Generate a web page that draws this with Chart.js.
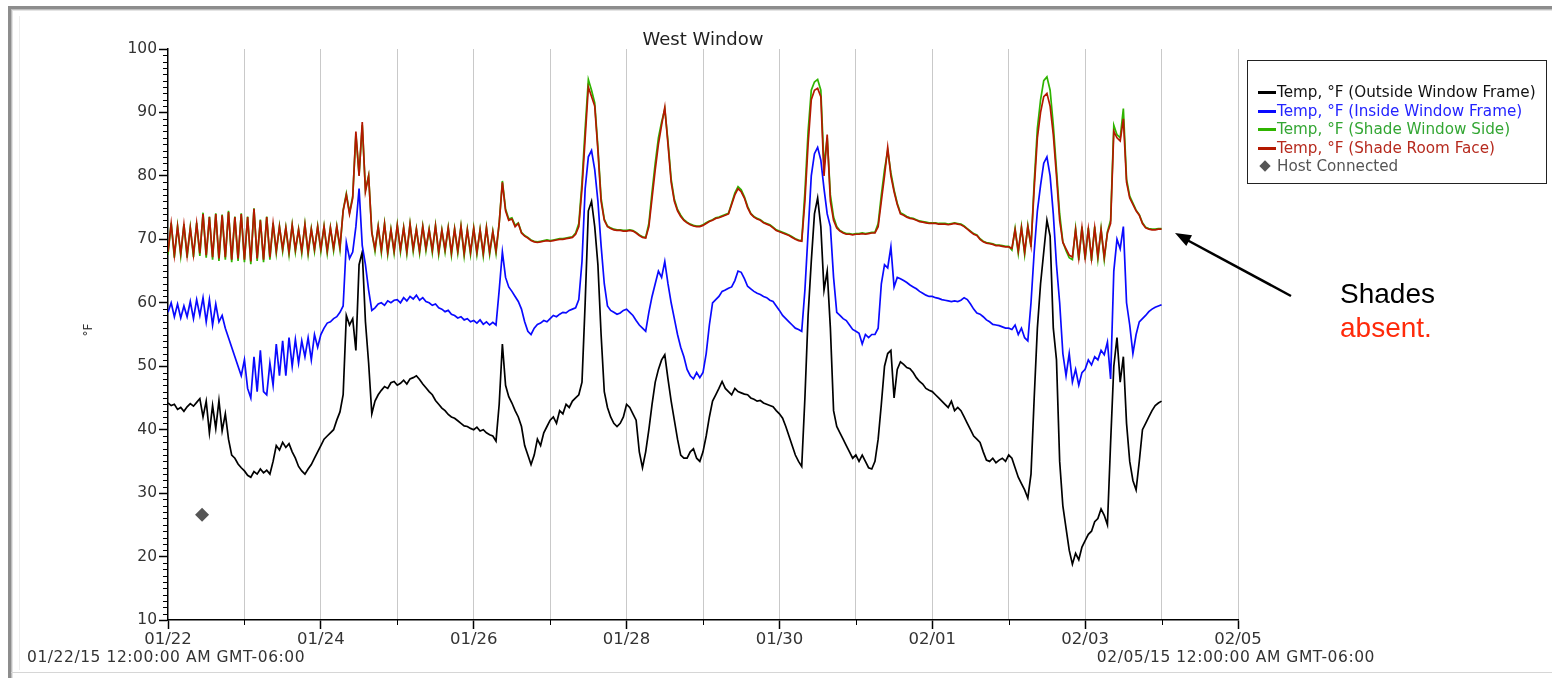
<!DOCTYPE html>
<html>
<head>
<meta charset="utf-8">
<title>West Window</title>
<script src="https://cdn.jsdelivr.net/npm/chart.js"></script>
<style>
  html, body { margin: 0; padding: 0; background: #fff; }
  body { width: 1552px; height: 678px; position: relative; overflow: hidden; font-family: "DejaVu Sans", sans-serif; }
  #marco { position: absolute; left: 8px; top: 6px; width: 1600px; height: 720px;
           border-top: 3px solid #8d8d8d; border-left: 3px solid #8d8d8d;
           box-shadow: inset 1px 1px 0 #bdbdbd, inset 2px 2px 0 #e4e4e4; }
  #lineaInterior { position: absolute; left: 19px; top: 16px; height: 654px; border-left: 1px solid #ededed; }
  #lineaInferior { position: absolute; left: 11px; top: 672px; width: 1541px; border-top: 1px solid #d6d6d6; }
  #grafica { position: absolute; left: 0; top: 0; }
  #titulo { position: absolute; left: 553px; top: 28px; width: 300px; text-align: center;
            font-size: 18px; line-height: 22px; color: #222; }
  #unidad { position: absolute; left: 78px; top: 322px; width: 20px; text-align: center;
            font-size: 12px; line-height: 16px; color: #333; transform: rotate(-90deg); }
  .fecha { position: absolute; top: 648px; font-size: 15.5px; letter-spacing: 0.55px; line-height: 18px; color: #333; white-space: nowrap; }
  #leyenda { position: absolute; left: 1247px; top: 60px; width: 300px; height: 124px;
             border: 1px solid #222; box-sizing: border-box; padding-top: 22px; }
  .fila { position: relative; height: 18.5px; line-height: 18.5px; font-size: 15.2px; white-space: nowrap; padding-left: 29px; }
  .fila .trazo { position: absolute; left: 10px; top: 8px; width: 18px; height: 3px; }
  .fila .rombo { position: absolute; left: 13px; top: 5px; width: 8px; height: 8px; background: #555; transform: rotate(45deg); }
  .nota { position: absolute; left: 1340px; font-family: "Liberation Sans", Arial, sans-serif; font-size: 28px; line-height: 34px; white-space: nowrap; }
  #flecha { position: absolute; left: 0; top: 0; }
</style>
</head>
<body>
<div id="marco"></div>
<div id="lineaInterior"></div>
<div id="lineaInferior"></div>
<canvas id="grafica" width="1552" height="678"></canvas>
<div id="titulo">West Window</div>
<div id="unidad">°F</div>
<div class="fecha" style="left:27px">01/22/15 12:00:00 AM GMT-06:00</div>
<div class="fecha" style="right:177px">02/05/15 12:00:00 AM GMT-06:00</div>
<div id="leyenda"></div>
<svg id="flecha" width="1552" height="678">
  <line x1="1291" y1="296" x2="1188" y2="240.5" stroke="#000" stroke-width="2.5"/>
  <polygon points="1175,233 1192,235.3 1186.3,245.9" fill="#000"/>
</svg>
<div class="nota" style="top:277px;color:#000">Shades</div>
<div class="nota" style="top:311px;color:#ff2a0a">absent.</div>

<script>
// Etiquetas de los días (una marca por día, texto cada dos días)
const etiquetasDias = ['01/22','01/23','01/24','01/25','01/26','01/27','01/28','01/29',
                       '01/30','01/31','02/01','02/02','02/03','02/04','02/05'];

// Lecturas horarias desde 01/22 00:00 hasta 02/04 00:00 (°F)
const tempExterior = [
  44.2,43.8,44.0,43.2,43.5,42.9,43.6,44.1,43.7,44.3,44.9,42.0,44.5,39.5,43.8,40.2,44.6,39.8,42.5,38.5,36.0,35.5,34.6,34.0,
  33.5,32.8,32.5,33.4,33.0,33.8,33.2,33.6,33.0,35.0,37.5,36.8,38.0,37.2,37.8,36.5,35.5,34.2,33.5,33.0,33.8,34.5,35.5,36.5,
  37.5,38.5,39.0,39.5,40.0,41.5,42.8,45.5,58.0,56.5,57.5,52.5,66.0,68.0,57.0,50.5,42.5,44.5,45.5,46.2,46.8,46.5,47.4,47.6,
  47.0,47.3,47.8,47.2,48.0,48.2,48.5,47.9,47.2,46.6,46.0,45.5,44.6,44.0,43.4,43.0,42.4,42.0,41.8,41.4,41.0,40.6,40.5,40.2,
  40.0,40.4,39.8,40.0,39.5,39.2,39.0,38.2,44.0,53.5,47.0,45.2,44.2,43.0,42.0,40.5,37.5,36.0,34.5,36.0,38.5,37.5,39.5,40.5,
  41.5,42.0,41.0,43.0,42.5,44.0,43.5,44.5,45.0,45.5,47.5,60.0,74.5,76.0,72.0,66.0,55.0,46.0,43.5,42.0,41.0,40.5,41.0,42.0,
  44.0,43.5,42.5,41.5,36.5,34.0,36.5,40.0,44.0,47.5,49.5,51.0,51.8,48.0,44.5,41.5,38.5,36.0,35.5,35.5,36.5,37.0,35.5,35.0,
  36.5,39.0,42.0,44.5,45.5,46.5,47.6,46.5,46.0,45.5,46.5,46.0,45.8,45.6,45.5,45.0,44.8,44.5,44.6,44.2,44.0,43.8,43.6,43.0,
  42.5,41.8,40.5,39.0,37.5,36.0,35.0,34.2,45.0,58.0,66.5,74.0,76.5,72.0,62.0,65.0,56.0,43.0,40.5,39.5,38.5,37.5,36.5,35.5,
  36.0,35.0,36.0,35.0,34.0,33.8,35.0,38.5,44.0,50.0,52.0,52.5,45.0,49.5,50.7,50.3,49.8,49.6,49.0,48.2,47.6,47.2,46.5,46.2,
  46.0,45.5,45.0,44.5,44.0,43.5,44.5,43.0,43.5,43.0,42.0,41.0,40.0,39.0,38.5,38.0,36.5,35.2,35.0,35.5,34.8,35.2,35.5,35.0,
  36.0,35.5,34.0,32.5,31.5,30.5,29.2,33.0,45.0,56.0,63.0,68.0,73.0,70.5,56.0,51.0,35.0,28.0,24.5,21.0,18.8,20.5,19.5,21.5,
  22.5,23.5,24.0,25.5,26.0,27.5,26.5,25.0,38.0,50.0,54.5,47.5,51.5,41.0,35.0,32.0,30.5,35.0,40.0,41.0,42.0,43.0,43.8,44.2,44.5
];
const tempInterior = [
  58.5,60.0,57.8,59.8,57.6,59.5,57.8,60.2,57.5,60.5,58.0,60.8,57.0,60.5,56.5,59.8,57.0,58.0,56.0,54.5,53.0,51.5,50.0,48.5,
  51.0,46.5,45.0,51.5,46.0,52.5,46.0,45.5,50.5,47.0,53.5,48.5,54.0,48.5,54.5,50.0,54.2,50.5,54.0,51.5,54.5,51.0,55.0,53.0,
  55.0,56.0,56.8,57.0,57.5,57.8,58.5,59.5,69.5,67.0,68.0,72.0,78.0,69.0,66.0,62.0,58.8,59.2,59.8,60.0,59.6,60.3,60.0,60.4,
  60.5,60.0,60.8,60.3,61.0,60.6,61.2,60.4,60.8,60.2,60.0,59.6,59.8,59.2,59.0,58.6,58.8,58.2,58.0,57.6,57.8,57.3,57.5,57.0,
  57.2,56.8,57.3,56.6,57.0,56.5,56.9,56.5,62.0,68.0,64.0,62.5,61.8,61.0,60.2,59.0,57.0,55.5,55.0,56.0,56.6,56.8,57.2,57.0,
  57.5,58.0,57.8,58.2,58.5,58.4,58.8,59.0,59.2,60.5,66.5,78.0,83.0,84.0,81.0,76.0,69.0,63.0,59.5,58.8,58.5,58.2,58.4,58.8,
  59.0,58.5,58.0,57.2,56.5,56.0,55.5,58.5,61.0,63.0,65.0,64.0,66.5,63.0,60.0,57.5,55.0,53.0,51.5,49.5,48.5,48.0,49.0,48.2,
  49.0,52.0,56.5,60.0,60.5,61.0,61.8,62.0,62.3,62.5,63.5,65.0,64.8,63.8,62.6,62.2,61.8,61.5,61.3,61.0,60.8,60.4,60.2,59.5,
  58.8,58.0,57.5,57.0,56.5,56.0,55.8,55.5,62.0,71.0,80.0,83.5,84.5,82.5,78.0,74.0,72.0,64.0,58.5,58.0,57.5,57.2,56.5,55.8,
  55.5,55.2,53.5,55.0,54.5,55.0,55.0,56.0,63.0,66.0,65.5,68.8,62.5,64.0,63.8,63.5,63.2,62.8,62.5,62.2,61.8,61.5,61.2,61.0,
  61.0,60.8,60.7,60.5,60.4,60.3,60.2,60.3,60.2,60.4,60.8,60.5,59.8,59.0,58.4,58.2,57.8,57.3,57.0,56.6,56.5,56.4,56.2,56.0,
  56.0,55.8,56.5,55.0,56.0,54.5,54.0,60.0,68.0,74.5,78.5,82.0,83.0,80.0,74.0,66.0,60.0,52.0,48.5,52.0,47.5,49.5,47.0,49.0,
  49.5,51.0,50.2,51.5,51.0,52.5,51.8,53.8,48.0,65.0,70.0,68.5,72.0,60.0,56.5,52.0,55.0,57.0,57.5,58.0,58.6,59.0,59.3,59.5,59.7
];
const tempCortinaVentana = [
  67.6,72.6,67.1,72.1,67.4,72.4,67.1,71.9,67.2,72.6,67.4,74.2,67.1,73.6,66.8,74.1,66.6,73.9,66.8,74.5,66.4,73.6,66.6,74.1,
  66.4,73.6,66.1,74.9,66.6,73.1,66.4,73.6,66.8,72.6,67.8,72.1,68.1,71.9,67.6,72.3,68.0,71.6,67.8,72.4,67.6,71.7,68.1,72.1,
  68.1,72.1,67.8,71.9,68.2,72.1,68.4,74.6,77.2,74.2,76.8,86.5,80.2,88.0,77.8,80.0,71.2,68.1,72.1,67.9,72.5,67.6,71.6,67.8,
  72.3,68.0,71.9,67.7,72.5,68.1,71.7,67.8,72.1,68.2,71.6,67.9,72.2,67.6,71.5,68.0,71.9,67.5,71.7,67.8,72.1,67.4,71.6,67.6,
  71.8,67.6,71.6,67.4,71.9,67.6,71.3,67.8,72.6,79.2,74.8,73.2,73.4,72.2,72.6,71.1,70.6,70.3,69.9,69.7,69.6,69.7,69.8,69.9,
  69.8,69.9,70.0,70.1,70.1,70.2,70.3,70.4,71.0,72.5,79.0,87.5,95.2,93.5,91.5,84.5,76.5,73.2,72.1,71.8,71.6,71.5,71.5,71.4,
  71.4,71.5,71.4,71.1,70.7,70.4,70.3,72.5,77.5,82.0,86.0,88.5,90.5,85.5,79.5,76.3,74.7,73.8,73.1,72.7,72.4,72.2,72.1,72.1,
  72.3,72.6,72.9,73.1,73.4,73.5,73.7,73.9,74.1,75.7,77.3,78.3,77.8,76.7,75.2,74.1,73.6,73.3,73.1,72.7,72.5,72.3,71.9,71.5,
  71.3,71.1,70.9,70.7,70.4,70.1,69.9,69.8,77.5,87.0,93.5,94.8,95.2,93.5,81.5,86.0,77.0,73.5,72.0,71.4,71.1,70.9,70.9,70.8,
  70.9,70.9,71.0,70.9,71.0,71.1,71.1,72.5,77.0,81.0,84.0,80.5,77.8,75.7,74.2,73.9,73.6,73.4,73.3,73.1,72.9,72.8,72.7,72.6,
  72.6,72.6,72.5,72.5,72.5,72.4,72.5,72.6,72.5,72.4,72.1,71.7,71.3,70.9,70.7,70.1,69.7,69.5,69.4,69.3,69.1,69.1,69.0,68.9,
  68.9,68.3,71.7,67.8,72.0,67.6,72.2,68.8,79.0,87.5,92.0,95.0,95.6,93.5,88.0,81.0,74.0,69.6,68.2,67.1,66.8,71.7,66.7,72.0,
  66.8,71.8,66.6,72.0,66.9,71.7,66.8,71.2,73.0,88.0,86.5,86.0,90.6,79.5,76.8,75.7,74.6,73.9,72.6,71.9,71.7,71.6,71.6,71.7,71.7
];
const tempCortinaCuarto = [
  68.0,72.5,67.5,72.0,67.8,72.3,67.5,71.8,67.6,72.5,67.8,74.0,67.5,73.5,67.2,74.0,67.0,73.8,67.2,74.3,66.8,73.5,67.0,74.0,
  66.8,73.5,66.5,74.8,67.0,73.0,66.8,73.5,67.2,72.5,68.2,72.0,68.5,71.8,68.0,72.2,68.4,71.5,68.2,72.3,68.0,71.6,68.5,72.0,
  68.5,72.0,68.2,71.8,68.6,72.0,68.8,74.5,77.0,74.0,76.5,87.0,80.0,88.5,77.5,80.0,71.0,68.5,72.0,68.3,72.4,68.0,71.5,68.2,
  72.2,68.4,71.8,68.1,72.4,68.5,71.6,68.2,72.0,68.6,71.5,68.3,72.1,68.0,71.4,68.4,71.8,67.9,71.6,68.2,72.0,67.8,71.5,68.0,
  71.7,68.0,71.5,67.8,71.8,68.0,71.2,68.2,72.5,79.0,74.5,73.0,73.2,72.0,72.5,71.0,70.5,70.2,69.8,69.6,69.5,69.6,69.7,69.8,
  69.7,69.8,69.9,70.0,70.0,70.1,70.2,70.3,70.8,72.0,78.0,86.0,94.0,92.5,91.0,84.0,76.0,73.0,72.0,71.7,71.5,71.4,71.4,71.3,
  71.3,71.4,71.3,71.0,70.6,70.3,70.2,72.0,76.5,81.0,85.0,88.0,90.8,85.0,79.0,76.0,74.5,73.6,73.0,72.6,72.3,72.1,72.0,72.0,
  72.2,72.5,72.8,73.0,73.3,73.4,73.6,73.8,74.0,75.5,77.0,78.0,77.5,76.5,75.0,74.0,73.5,73.2,73.0,72.6,72.4,72.2,71.8,71.4,
  71.2,71.0,70.8,70.6,70.3,70.0,69.8,69.7,76.0,85.0,92.0,93.5,93.8,92.5,80.0,86.5,76.0,73.0,71.8,71.3,71.0,70.8,70.8,70.7,
  70.8,70.8,70.9,70.8,70.9,71.0,71.0,72.0,76.0,80.0,84.5,80.0,77.5,75.5,74.0,73.8,73.5,73.3,73.2,73.0,72.8,72.7,72.6,72.5,
  72.5,72.5,72.4,72.4,72.4,72.3,72.4,72.5,72.4,72.3,72.0,71.6,71.2,70.8,70.6,70.0,69.6,69.4,69.3,69.2,69.0,69.0,68.9,68.8,
  68.8,68.6,71.5,68.2,71.8,68.0,72.0,69.0,78.0,86.0,90.0,92.5,93.0,91.0,86.5,80.0,73.0,69.5,68.5,67.5,67.2,71.5,67.1,71.8,
  67.2,71.6,67.0,71.8,67.3,71.5,67.2,71.0,72.5,87.0,86.0,85.5,89.0,79.0,76.5,75.5,74.5,73.8,72.5,71.8,71.6,71.5,71.5,71.6,71.6
];
// Evento "Host Connected": [hora, °F]
const hostConectado = [[10.7, 26.6]];

// Una lectura por hora
const horas = tempExterior.map((_, i) => i);

const series = [
  { nombre: 'Temp, °F (Outside Window Frame)', datos: tempExterior,       color: '#000000', texto: '#111111', orden: 3 },
  { nombre: 'Temp, °F (Inside Window Frame)',  datos: tempInterior,       color: '#0a0aff', texto: '#2323ff', orden: 2 },
  { nombre: 'Temp, °F (Shade Window Side)',    datos: tempCortinaVentana, color: '#2fb400', texto: '#33a633', orden: 1 },
  { nombre: 'Temp, °F (Shade Room Face)',      datos: tempCortinaCuarto,  color: '#b41800', texto: '#b62a1e', orden: 0 }
];

// Leyenda en HTML (igual que la del programa original, con recuadro)
const leyenda = document.getElementById('leyenda');
series.forEach(s => {
  leyenda.insertAdjacentHTML('beforeend',
    `<div class="fila" style="color:${s.texto}"><span class="trazo" style="background:${s.color}"></span>${s.nombre}</div>`);
});
leyenda.insertAdjacentHTML('beforeend',
  `<div class="fila" style="color:#555"><span class="rombo"></span>Host Connected</div>`);

// Marcas menores de los ejes (cada grado y cada día impar)
const marcasMenores = {
  id: 'marcasMenores',
  afterDraw(chart) {
    const { ctx, chartArea, scales: { x, y } } = chart;
    ctx.save();
    ctx.strokeStyle = '#000';
    ctx.lineWidth = 1;
    ctx.beginPath();
    for (let v = y.min + 1; v < y.max; v++) {
      if (v % 10 === 0) continue;
      const py = Math.round(y.getPixelForValue(v)) + 0.5;
      ctx.moveTo(chartArea.left - 5, py);
      ctx.lineTo(chartArea.left, py);
    }
    for (let d = 1; d < etiquetasDias.length; d += 2) {
      const px = Math.round(x.getPixelForValue(d * 24)) + 0.5;
      ctx.moveTo(px, chartArea.bottom);
      ctx.lineTo(px, chartArea.bottom + 5);
    }
    ctx.stroke();
    ctx.restore();
  }
};

Chart.defaults.font.family = '"DejaVu Sans", sans-serif';

const datasets = series.map(s => ({
  label: s.nombre,
  data: s.datos.map((v, i) => ({ x: horas[i], y: v })),
  borderColor: s.color,
  backgroundColor: s.color,
  borderWidth: 1.7,
  pointRadius: 0,
  tension: 0,
  order: s.orden
}));
datasets.push({
  label: 'Host Connected',
  data: hostConectado.map(p => ({ x: p[0], y: p[1] })),
  showLine: false,
  pointStyle: 'rectRot',
  pointRadius: 7,
  backgroundColor: '#555',
  borderColor: '#555',
  borderWidth: 0,
  order: 4
});

const esDiaPar = ctx => ctx.tick && Math.round(ctx.tick.value / 24) % 2 === 0;

new Chart(document.getElementById('grafica'), {
  type: 'line',
  data: { datasets },
  options: {
    responsive: false,
    animation: false,
    layout: { padding: { left: 108, top: 49, right: 314, bottom: 18 } },
    plugins: { legend: { display: false }, tooltip: { enabled: false } },
    scales: {
      x: {
        type: 'linear',
        min: 0,
        max: (etiquetasDias.length - 1) * 24,
        afterFit: s => { s.height = 40; },
        ticks: {
          stepSize: 24,
          autoSkip: false,
          maxRotation: 0,
          padding: 1,
          color: '#333',
          font: { size: 16.5 },
          callback: v => (Math.round(v / 24) % 2 === 0 ? etiquetasDias[Math.round(v / 24)] : '')
        },
        grid: {
          color: c => (c.tick && c.tick.value > 0 ? '#c9c9c9' : 'rgba(0,0,0,0)'),
          lineWidth: 1,
          tickLength: 9,
          tickWidth: 1.5,
          tickColor: c => (esDiaPar(c) ? '#000' : 'rgba(0,0,0,0)')
        },
        border: { display: true, color: '#000', width: 1.5 }
      },
      y: {
        min: 10,
        max: 100,
        afterFit: s => { s.width = 60; },
        ticks: { stepSize: 10, padding: 2, color: '#333', font: { size: 15.5 } },
        grid: { drawOnChartArea: false, tickLength: 9, tickWidth: 1.5, tickColor: '#000' },
        border: { display: true, color: '#000', width: 1.5 }
      }
    }
  },
  plugins: [marcasMenores]
});
</script>
</body>
</html>
